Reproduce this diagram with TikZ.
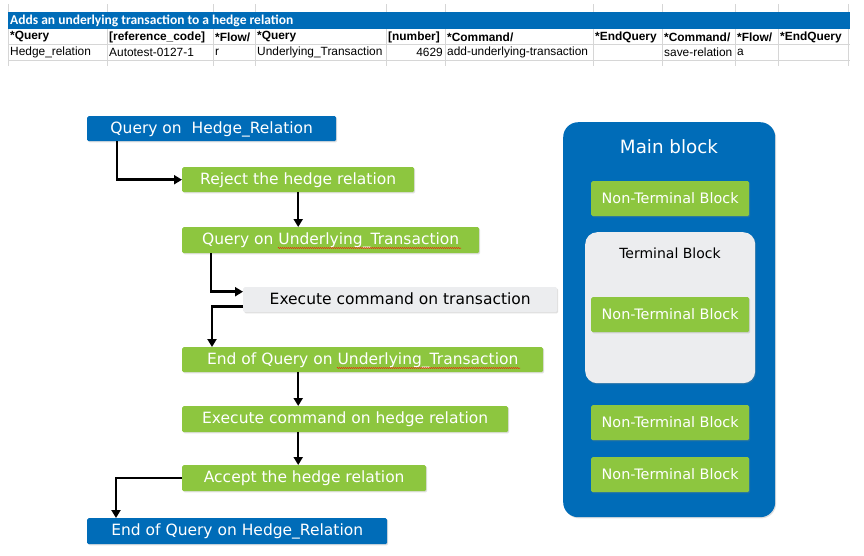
\documentclass[tikz,border=0pt]{standalone}
\usepackage{fontspec}
\setmainfont{DejaVu Sans}
\newfontfamily\sheetfont{Liberation Sans}
\newfontfamily\titlefont{Carlito}
\usetikzlibrary{arrows.meta,shadows,decorations.pathmorphing}

\definecolor{hblue}{RGB}{0,108,184}
\definecolor{hgreen}{RGB}{141,198,63}
\definecolor{hgray}{RGB}{236,237,239}
\definecolor{gridgray}{RGB}{214,214,214}

\tikzset{
  box/.style={rounded corners=1.5pt, minimum height=25pt, inner sep=0pt, anchor=north west,
    text=white, text height=11.5pt, text depth=2.5pt, font=\fontsize{15.5}{18}\selectfont,
    drop shadow={opacity=0.25, shadow xshift=1pt, shadow yshift=-1.2pt}},
  bluebox/.style={box, fill=hblue},
  greenbox/.style={box, fill=hgreen},
  graybox/.style={box, fill=hgray, text=black},
  ntbox/.style={greenbox, minimum width=158pt, minimum height=35pt, font=\fontsize{14.4}{17}\selectfont},
  flow/.style={-{Triangle[length=8pt,width=9pt]}, line width=2.5pt},
  spell/.style={red, line width=0.5pt, decorate, decoration={snake, amplitude=0.5pt, segment length=2pt}},
  cell/.style={anchor=west, inner sep=0pt, font=\sheetfont\fontsize{11.9}{14}\selectfont},
  hcell/.style={cell, font=\sheetfont\bfseries\fontsize{11.9}{14}\selectfont}
}

\begin{document}
\begin{tikzpicture}[x=1pt,y=-1pt]
  \useasboundingbox (0,0) rectangle (864,555);

  % spreadsheet strip
  \foreach \x in {8,107,213,255,386,445,593,662,735,778,848}
    \draw[gridgray, line width=0.8pt] (\x,4) -- (\x,66);
  \draw[gridgray, line width=0.8pt] (8,44) -- (850,44) (8,60) -- (850,60);
  \fill[hblue] (8,12) rectangle (850,29);
  \node[anchor=west, inner sep=0pt, text=white, font=\titlefont\bfseries\fontsize{13.5}{15}\selectfont] (title) at (10,21)
    {Adds an underlying transaction to a hedge relation};
  \foreach \x/\t in {8/*Query, 107/[reference\_code], 213/*Flow\slash, 255/*Query, 386/[number],
                     445/*Command\slash, 593/*EndQuery, 662/*Command\slash, 735/*Flow\slash, 778/*EndQuery}
    \node[hcell] at (\x+2,37) {\t};
  \foreach \x/\t in {8/Hedge\_relation, 107/Autotest-0127-1, 213/r, 255/Underlying\_Transaction,
                     445/add-underlying-transaction, 662/save-relation, 735/a}
    \node[cell] at (\x+2,52) {\t};
  \node[cell, anchor=east] at (443,52) {4629};

  % flow of the test
  \node[bluebox, minimum width=249pt] (qhr) at (87,116) {Query on\ \ Hedge\_Relation};
  \node[greenbox, minimum width=232pt] (rej) at (182,167) {Reject the hedge relation};
  \node[greenbox, minimum width=297pt, minimum height=26pt] (qu) at (182,227) {Query on Underlying\_Transaction};
  \node[graybox, minimum width=314pt] (ex) at (243,287) {Execute command on transaction};
  \node[greenbox, minimum width=361pt] (equ) at (182,347) {End of Query on Underlying\_Transaction};
  \node[greenbox, minimum width=326pt, minimum height=26pt] (exh) at (182,406) {Execute command on hedge relation};
  \node[greenbox, minimum width=244pt, minimum height=26pt] (acc) at (182,465) {Accept the hedge relation};
  \node[bluebox, minimum width=300pt, minimum height=26pt] (ehr) at (87,518) {End of Query on Hedge\_Relation};

  \draw[spell] (278,248) -- (461,248);
  \draw[spell] (337,368) -- (520,368);

  \draw[flow] ([xshift=30pt]qhr.south west) |- (rej.west);
  \draw[flow] (rej.south) -- (rej.south |- qu.north);
  \draw[flow] ([xshift=29pt]qu.south west) |- ([yshift=8pt]ex.west);
  \draw[flow] ([yshift=-7pt]ex.west) -| ([xshift=30pt]equ.north west);
  \draw[flow] (equ.south -| rej.south) -- (exh.north -| rej.south);
  \draw[flow] (exh.south -| rej.south) -- (acc.north -| rej.south);
  \draw[flow] (acc.west) -| ([xshift=29pt]ehr.north west);

  % block legend
  \node[bluebox, rounded corners=15pt, minimum width=212pt, minimum height=395pt] (main) at (563,122) {};
  \node[text=white, font=\fontsize{18.3}{21}\selectfont] (mainT) at (669,147) {Main block};
  \node[graybox, rounded corners=12pt, minimum width=170pt, minimum height=151pt] (term) at (585,232) {};
  \node[font=\fontsize{14}{17}\selectfont] (termT) at (670,253) {Terminal Block};
  \foreach \y/\n in {181/nt1, 297/nt2, 405/nt3, 457/nt4}
    \node[ntbox] (\n) at (591,\y) {Non-Terminal Block};
\end{tikzpicture}
\end{document}
